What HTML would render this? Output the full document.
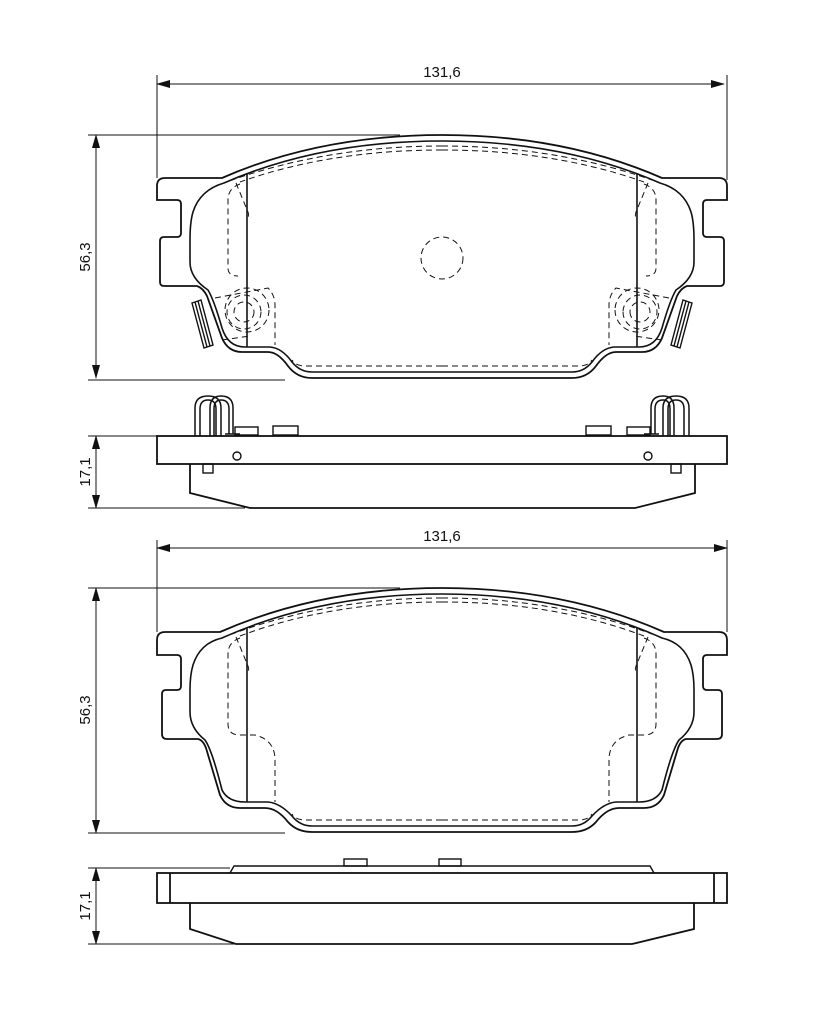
<!DOCTYPE html>
<html><head><meta charset="utf-8"><style>
html,body{margin:0;padding:0;background:#fff;}
svg{display:block}
text{font-family:"Liberation Sans",sans-serif;font-size:15px;fill:#111}
</style></head><body>
<svg width="827" height="1024" viewBox="0 0 827 1024" xmlns="http://www.w3.org/2000/svg">
<defs>
<marker id="ar" markerWidth="14" markerHeight="8" refX="13" refY="4" orient="auto" markerUnits="userSpaceOnUse">
<path d="M0,0 L14,4 L0,8 z" fill="#111"/></marker>
<g id="half1" fill="none" stroke="#111">
<path stroke-width="1.8" d="M442 135 Q 320 135 222 178 H 165 Q 157 178 157 186 V 200 H 177 Q 181 200 181 204 V 233 Q 181 237 177 237 H 164 Q 160 237 160 241 V 282 Q 160 286 164 286 H 197 Q 203 288 207 296 L 222 338 Q 228 352 242 352 H 268 Q 278 352 288 366 Q 297 378 312 378 H 442"/>
<path stroke-width="1.6" d="M442 141 Q 320 141 224 183 Q 200 190 193 212 Q 190 222 190 240 V 262 Q 190 278 208 290 Q 214 300 222 328 Q 228 347 245 347 H 270 Q 282 348 292 362 Q 300 372 312 372 H 442"/>
<line x1="247" y1="173" x2="247" y2="347" stroke-width="1.6"/>
<g stroke-dasharray="6,4" stroke-width="1">
<path d="M442 146 Q 330 146 232 180"/>
<path d="M442 150 Q 330 150 240 182"/>
<path d="M442 366 H 305 Q 296 366 292 360"/>
<path d="M240 184 Q 228 188 228 200 V 268 Q 228 276 238 276"/>
<path d="M236 183 L 248 212 Q 250 218 246 216"/>
<path d="M215 298 L 268 288 Q 275 295 275 305 V 345"/>
<path d="M222 340 L 250 336"/>
<circle cx="244" cy="312" r="10"/>
<circle cx="244" cy="312" r="17"/>
<circle cx="247" cy="310" r="22"/>
</g>
<path stroke-width="1.4" d="M192 303 L201 300 L213 345 L204 348 Z M195 302 L207 347 M198 301 L210 346"/>
</g>
<g id="half2" fill="none" stroke="#111">
<path stroke-width="1.8" d="M442 588 Q 320 588 220 632 H 165 Q 157 632 157 640 V 655 H 177 Q 181 655 181 659 V 686 Q 181 690 177 690 H 166 Q 162 690 162 694 V 734 Q 162 739 167 739 H 198 Q 203 740 206 748 L 220 795 Q 226 808 240 808 H 265 Q 277 808 288 822 Q 297 832 312 832 H 442"/>
<path stroke-width="1.6" d="M442 594 Q 320 594 222 638 Q 200 643 193 665 Q 190 675 190 690 V 712 Q 190 728 205 740 Q 212 750 222 790 Q 228 802 245 802 H 268 Q 280 803 292 816 Q 300 826 312 826 H 442"/>
<line x1="247" y1="628" x2="247" y2="802" stroke-width="1.6"/>
<g stroke-dasharray="6,4" stroke-width="1">
<path d="M442 598 Q 330 598 232 634"/>
<path d="M442 602 Q 330 602 240 636"/>
<path d="M442 820 H 305 Q 296 820 292 814"/>
<path d="M240 638 Q 228 642 228 654 V 724 Q 228 735 240 735 H 255 Q 275 740 275 760 V 802"/>
<path d="M236 637 L 248 666 Q 250 672 246 670"/>
</g>
</g>
</defs>

<!-- dimensions top -->
<g stroke="#111" stroke-width="1" fill="none">
<line x1="157" y1="75" x2="157" y2="178"/>
<line x1="727" y1="75" x2="727" y2="180"/>
<line x1="160" y1="84" x2="724" y2="84" marker-end="url(#ar)" marker-start="url(#ar)" style="marker-start:none"/>
<line x1="724" y1="84" x2="157" y2="84" marker-end="url(#ar)"/>
<line x1="88" y1="135" x2="400" y2="135"/>
<line x1="88" y1="380" x2="285" y2="380"/>
<line x1="96" y1="140" x2="96" y2="378" marker-end="url(#ar)"/>
<line x1="96" y1="375" x2="96" y2="135" marker-end="url(#ar)"/>
<line x1="88" y1="436" x2="157" y2="436"/>
<line x1="88" y1="508" x2="245" y2="508"/>
<line x1="96" y1="440" x2="96" y2="508" marker-end="url(#ar)"/>
<line x1="96" y1="505" x2="96" y2="436" marker-end="url(#ar)"/>

<line x1="157" y1="540" x2="157" y2="632"/>
<line x1="727" y1="540" x2="727" y2="632"/>
<line x1="160" y1="548" x2="727" y2="548" marker-end="url(#ar)"/>
<line x1="724" y1="548" x2="157" y2="548" marker-end="url(#ar)"/>
<line x1="88" y1="588" x2="400" y2="588"/>
<line x1="88" y1="833" x2="285" y2="833"/>
<line x1="96" y1="592" x2="96" y2="833" marker-end="url(#ar)"/>
<line x1="96" y1="830" x2="96" y2="588" marker-end="url(#ar)"/>
<line x1="88" y1="868" x2="230" y2="868"/>
<line x1="88" y1="944" x2="245" y2="944"/>
<line x1="96" y1="872" x2="96" y2="944" marker-end="url(#ar)"/>
<line x1="96" y1="940" x2="96" y2="868" marker-end="url(#ar)"/>
</g>
<text x="442" y="77" text-anchor="middle">131,6</text>
<text x="442" y="541" text-anchor="middle">131,6</text>
<text transform="translate(90,257) rotate(-90)" text-anchor="middle">56,3</text>
<text transform="translate(90,472) rotate(-90)" text-anchor="middle">17,1</text>
<text transform="translate(90,710) rotate(-90)" text-anchor="middle">56,3</text>
<text transform="translate(90,906) rotate(-90)" text-anchor="middle">17,1</text>

<!-- pads -->
<use href="#half1"/>
<use href="#half1" transform="translate(884,0) scale(-1,1)"/>
<circle cx="442" cy="258" r="21" fill="none" stroke="#111" stroke-width="1" stroke-dasharray="6,4"/>
<use href="#half2"/>
<use href="#half2" transform="translate(884,0) scale(-1,1)"/>

<!-- side view 1 -->
<g fill="none" stroke="#111" stroke-width="1.8">
<rect x="157" y="436" width="570" height="28"/>
<path d="M190 464 V 493 L 250 508 H 635 L 695 493 V 464"/>
<rect x="235" y="427" width="23" height="8" stroke-width="1.4"/>
<rect x="273" y="426" width="25" height="9" stroke-width="1.4"/>
<rect x="586" y="426" width="25" height="9" stroke-width="1.4"/>
<rect x="627" y="427" width="23" height="8" stroke-width="1.4"/>
<circle cx="237" cy="456" r="4" stroke-width="1.4"/>
<circle cx="648" cy="456" r="4" stroke-width="1.4"/>
<rect x="203" y="464" width="10" height="9" stroke-width="1.4"/>
<rect x="671" y="464" width="10" height="9" stroke-width="1.4"/>
<path stroke-width="1.5" d="M195 436 V 408 Q 195 396 208 396 Q 221 396 221 408 V 436 M200 436 V 409 Q 200 400 208 400 Q 216 400 216 409 V 436 M210 436 V 408 Q 210 396 221 396 Q 233 396 233 408 V 434 M214 436 V 409 Q 214 400 221 400 Q 229 400 229 409 V 434 M225 434 H 240"/>
<path stroke-width="1.5" d="M689 436 V 408 Q 689 396 676 396 Q 663 396 663 408 V 436 M684 436 V 409 Q 684 400 676 400 Q 668 400 668 409 V 436 M674 436 V 408 Q 674 396 663 396 Q 651 396 651 408 V 434 M670 436 V 409 Q 670 400 663 400 Q 655 400 655 409 V 434 M659 434 H 644"/>
</g>

<!-- side view 2 -->
<g fill="none" stroke="#111" stroke-width="1.8">
<rect x="157" y="873" width="570" height="30"/>
<line x1="170" y1="873" x2="170" y2="903"/>
<line x1="714" y1="873" x2="714" y2="903"/>
<path d="M190 903 V 929 L 236 944 H 632 L 694 929 V 903"/>
<path stroke-width="1.4" d="M230 873 L 234 866 H 650 L 654 873"/>
<rect x="344" y="859" width="23" height="7" stroke-width="1.4"/>
<rect x="439" y="859" width="22" height="7" stroke-width="1.4"/>
</g>
</svg>
</body></html>
